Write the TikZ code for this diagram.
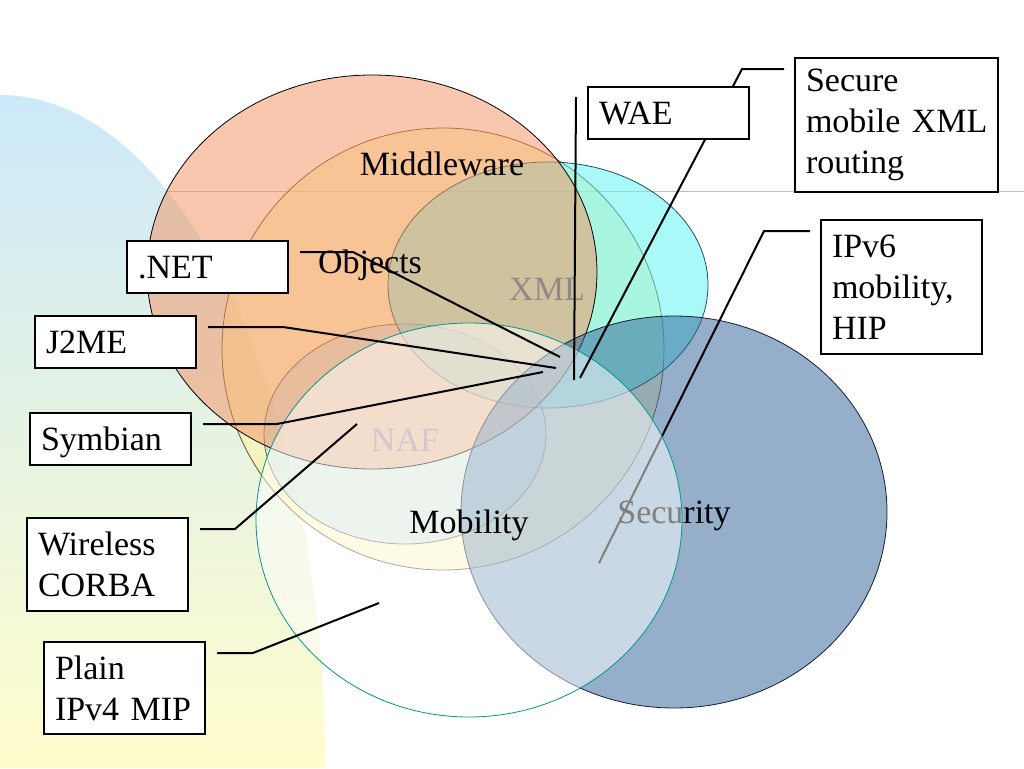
\documentclass[tikz,border=0pt]{standalone}
\usepackage{fontspec}
\setmainfont{Liberation Serif}
\usetikzlibrary{calc}
\definecolor{bgblue}{RGB}{204,233,250}
\definecolor{bggreen}{RGB}{226,242,232}
\definecolor{bgyellow}{RGB}{255,253,204}
\definecolor{objcol}{RGB}{255,245,155}
\definecolor{objline}{RGB}{110,75,50}
\definecolor{nafcol}{RGB}{187,220,237}
\definecolor{nafline}{RGB}{120,100,90}
\definecolor{xmlcol}{RGB}{85,245,245}
\definecolor{xmlline}{RGB}{40,80,80}
\definecolor{midcol}{RGB}{245,145,95}
\definecolor{seccol}{RGB}{45,97,153}
\definecolor{secline}{RGB}{20,30,50}
\definecolor{mobline}{RGB}{0,150,140}
\definecolor{xmltxt}{RGB}{150,135,135}
\definecolor{naftxt}{RGB}{212,198,204}
\begin{document}
\begin{tikzpicture}[x=1pt,y=-1pt]
\tikzset{every node/.style={font=\fontsize{34}{41}\selectfont}}
\tikzset{s/.style={draw,line width=2pt,fill=white,anchor=north west,align=left,inner xsep=11pt,inner ysep=0pt,text width=139pt,minimum height=#1},
	s1/.style={s=52pt,text depth=0pt},
	c/.style={line width=2pt},
	v/.style={line width=0.8pt,fill opacity=0.5},
	t/.style={anchor=base}}
\useasboundingbox (0,0) rectangle (1024,768);
\fill[white] (0,0) rectangle (1024,768);
%% background
\shade[top color=bgblue,middle color=bggreen,bottom color=bgyellow] (0,768)--(0,95) arc[start angle=-90,end angle=0,x radius=325,y radius=673]--cycle;
\draw[black!25,line width=1pt] (166,191)--(1024,191);
%% sets
\draw[v,fill=objcol,draw=objline] (443,349) ellipse [x radius=221,y radius=221];
\draw[v,fill=nafcol,draw=nafline] (405,434) ellipse [x radius=141,y radius=110];
\draw[v,fill=xmlcol,draw=xmlline] (548,285) ellipse [x radius=160,y radius=123];
\draw[v,fill=midcol,draw=black] (372,272) ellipse [x radius=225,y radius=197];
\draw[v,fill=seccol,draw=secline] (674,512) ellipse [x radius=213,y radius=196];
\node[t] (Sec) at (674,523) {Security};
%% boxes
\node[s1] (net) at (126,240) {.NET};
\node[s1] (j2me) at (34,315) {J2ME};
\node[s1] (sym) at (29,412) {Symbian};
\node[s=93pt] (corba) at (26,517) {Wireless\\CORBA};
\node[s=92pt] (plain) at (43,641) {Plain\\IPv4 MIP};
\node[s=134pt,text width=181pt] (sec) at (794,57) {Secure\\\mbox{mobile XML}\\routing};
\node[s=134pt] (ipv6) at (820,219) {IPv6\\mobility,\\HIP};
\coordinate (pNet) at (560,357);
\coordinate (pJ2me) at (556,368);
\coordinate (pSym) at (543,372);
\coordinate (pCorba) at (357,424);
\coordinate (pPlain) at (379,603);
\coordinate (pWae) at (574,380);
\coordinate (pSec) at (580,378);
\coordinate (pIpv) at (599,563);
\draw[c] ($(ipv6.north west)+(-10,12)$)--++(-46,0)--(pIpv);
\draw[v,fill=white,draw=mobline] (469,520) ellipse [x radius=213,y radius=197];
%% labels
\node[t] (Mid) at (442,175) {Middleware};
\node[t] (Obj) at (370,273) {Objects};
\node[t,text=xmltxt] (Xml) at (547,300) {XML};
\node[t,text=naftxt] (Naf) at (405,451) {NAF};
\node[t] (Mob) at (469,533) {Mobility};
%% connectors
\foreach \b/\k/\e in {net/53/pNet,j2me/75/pJ2me,sym/74/pSym,corba/35/pCorba,plain/36/pPlain}
\draw[c] ($(\b.north east)+(11,12)$)--++(\k,0)--(\e);
\draw[c] ($(sec.north west)+(-10,12)$)--++(-42,0)--(pSec);
\node[s1] (wae) at (587,86) {WAE};
\draw[c] ($(wae.north west)+(-11,11)$)--(pWae);
\end{tikzpicture}
\end{document}
